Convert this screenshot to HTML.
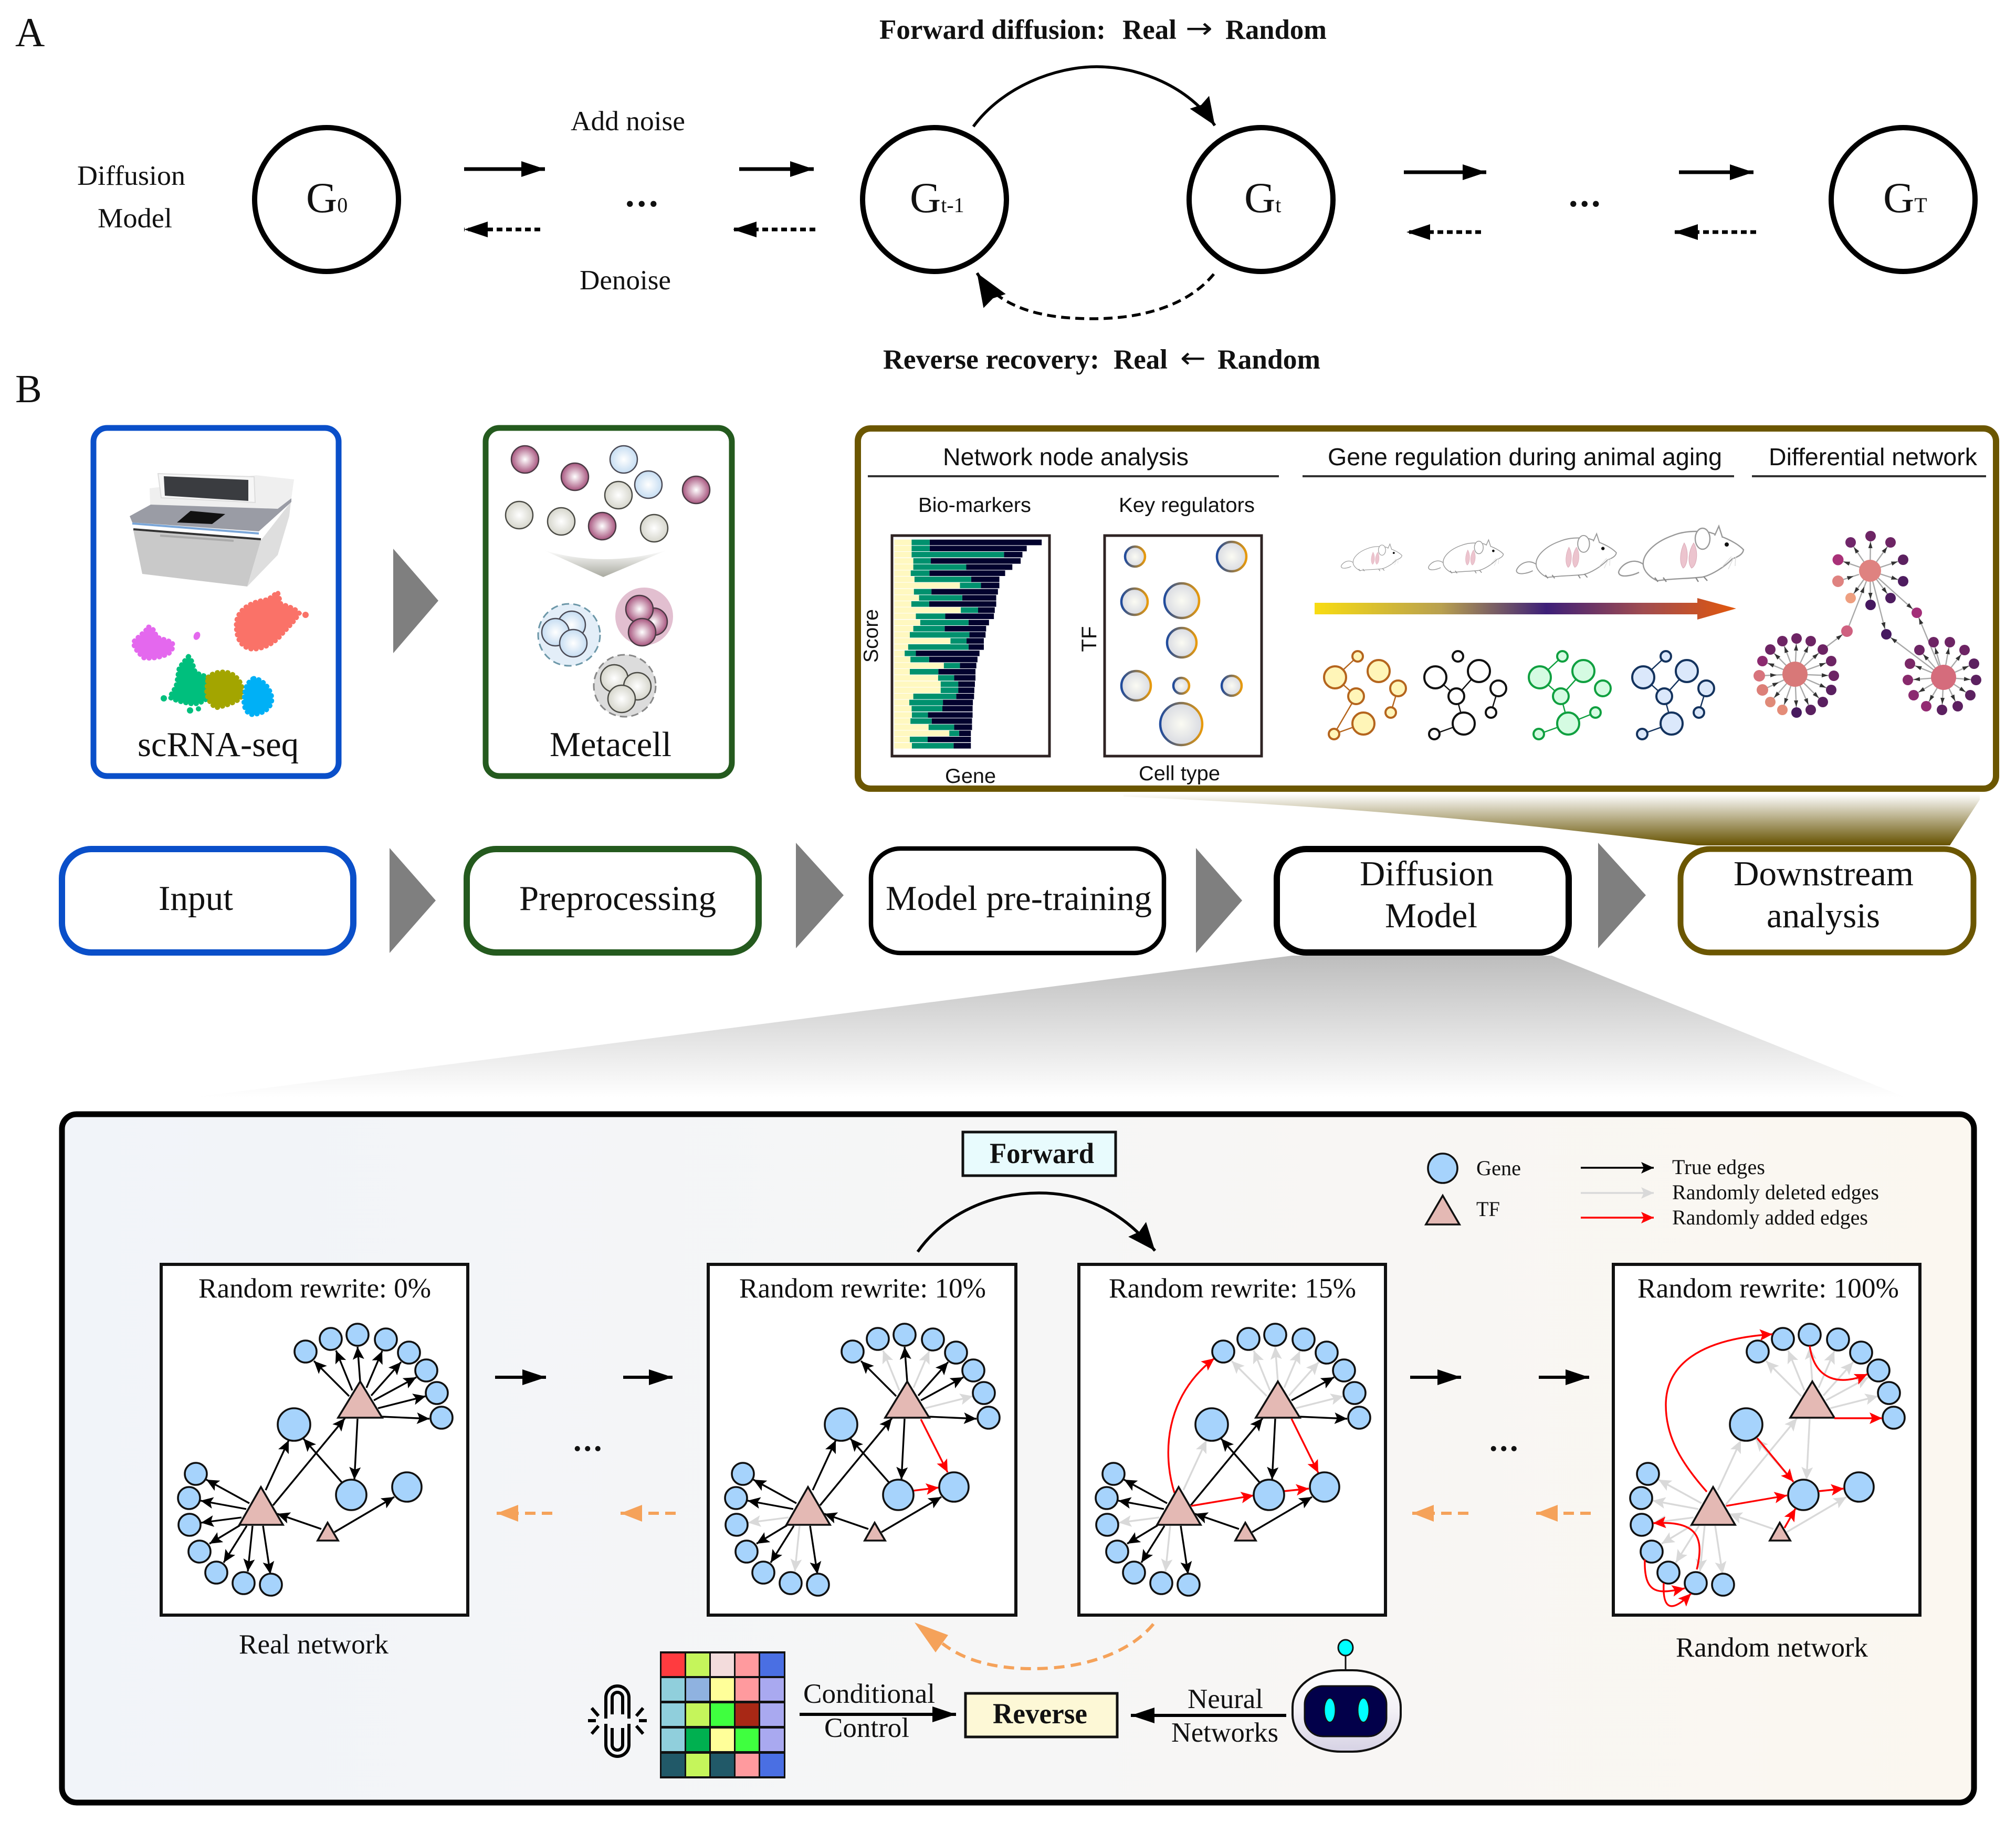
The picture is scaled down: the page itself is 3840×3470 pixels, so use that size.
<!DOCTYPE html>
<html><head><meta charset="utf-8"><title>Diffusion model diagram</title>
<style>
html,body{margin:0;padding:0;background:#fff}
svg{display:block}
text{font-family:"Liberation Serif",serif;fill:#111}
.s{font-family:"Liberation Sans",sans-serif}
</style></head><body>
<svg xmlns="http://www.w3.org/2000/svg" width="3840" height="3470" viewBox="0 0 3840 3470">
<defs>
<marker id="mk" markerUnits="userSpaceOnUse" markerWidth="26" markerHeight="24" refX="24" refY="12" orient="auto"><path d="M0 1L24 12L0 23L5 12Z" fill="#000"/></marker>
<marker id="mg" markerUnits="userSpaceOnUse" markerWidth="26" markerHeight="24" refX="24" refY="12" orient="auto"><path d="M0 1L24 12L0 23L5 12Z" fill="#d9d9d9"/></marker>
<marker id="mr" markerUnits="userSpaceOnUse" markerWidth="26" markerHeight="24" refX="24" refY="12" orient="auto"><path d="M0 1L24 12L0 23L5 12Z" fill="#f00"/></marker>
<marker id="mB" markerUnits="userSpaceOnUse" markerWidth="46" markerHeight="32" refX="45" refY="16" orient="auto"><path d="M0 1L45 16L0 31Z" fill="#000"/></marker>
<marker id="mL" markerUnits="userSpaceOnUse" markerWidth="54" markerHeight="46" refX="53" refY="23" orient="auto"><path d="M0 1L53 23L0 45L6 23Z" fill="#000"/></marker>
<marker id="mX" markerUnits="userSpaceOnUse" markerWidth="64" markerHeight="52" refX="63" refY="26" orient="auto"><path d="M0 1L63 26L0 51L6 26Z" fill="#000"/></marker>
<marker id="mO" markerUnits="userSpaceOnUse" markerWidth="42" markerHeight="34" refX="41" refY="17" orient="auto"><path d="M0 1L41 17L0 33Z" fill="#f5a25a"/></marker>
<marker id="ma" markerUnits="userSpaceOnUse" markerWidth="10" markerHeight="10" refX="0" refY="5" orient="auto" overflow="visible"><path d="M-23 1L-11 5L-23 9Z" fill="#333"/></marker>
<linearGradient id="fb" x1="0" y1="0" x2="0" y2="1"><stop offset="0" stop-color="#fff"/><stop offset="1" stop-color="#665200"/></linearGradient>
<linearGradient id="fg" x1="0" y1="0" x2="0" y2="1"><stop offset="0" stop-color="#bdbdbd"/><stop offset="1" stop-color="#fff"/></linearGradient>
<linearGradient id="bg" x1="0" y1="0" x2="1" y2="0"><stop offset="0" stop-color="#f1f4f9"/><stop offset=".5" stop-color="#f6f6f6"/><stop offset="1" stop-color="#fbf7f0"/></linearGradient>
<linearGradient id="ag" x1="0" y1="0" x2="1" y2="0"><stop offset="0" stop-color="#f8dc12"/><stop offset=".3" stop-color="#b8a050"/><stop offset=".55" stop-color="#3d1f78"/><stop offset=".78" stop-color="#a04c50"/><stop offset="1" stop-color="#e2570c"/></linearGradient>
<linearGradient id="bs" x1="0" y1="0" x2="1" y2="0"><stop offset="0" stop-color="#1f4b9e"/><stop offset="1" stop-color="#e89a0c"/></linearGradient>
<linearGradient id="fn" x1="0" y1="0" x2="0" y2="1"><stop offset="0" stop-color="#fff"/><stop offset="1" stop-color="#a9aaa0"/></linearGradient>
<linearGradient id="rb" x1="0" y1="0" x2="0" y2="1"><stop offset="0" stop-color="#fff"/><stop offset=".5" stop-color="#f2f0f6"/><stop offset="1" stop-color="#d6d2e4"/></linearGradient>
<radialGradient id="gm"><stop offset="0" stop-color="#fff"/><stop offset="1" stop-color="#a8567f"/></radialGradient>
<radialGradient id="gb"><stop offset="0" stop-color="#fff"/><stop offset="1" stop-color="#c6ddf2"/></radialGradient>
<radialGradient id="gy"><stop offset="0" stop-color="#fff"/><stop offset="1" stop-color="#d6d6cc"/></radialGradient>
<radialGradient id="bb"><stop offset="0" stop-color="#fbfbf3"/><stop offset="1" stop-color="#d9dbe2"/></radialGradient>

<line id="e1" x1="665" y1="2659" x2="598" y2="2592"/>
<line id="e2" x1="671" y1="2648" x2="640" y2="2572"/>
<line id="e3" x1="686" y1="2631" x2="681" y2="2565"/>
<line id="e4" x1="698" y1="2643" x2="728" y2="2573"/>
<line id="e5" x1="707" y1="2658" x2="764" y2="2594"/>
<line id="e6" x1="712" y1="2667" x2="793" y2="2623"/>
<line id="e7" x1="720" y1="2682" x2="811" y2="2659"/>
<line id="e8" x1="726" y1="2698" x2="818" y2="2702"/>
<line id="e9" x1="681" y1="2702" x2="675" y2="2818"/>
<line id="e10" x1="520" y1="2867" x2="657" y2="2701"/>
<line id="e11" x1="506" y1="2838" x2="550" y2="2743"/>
<line id="e12" x1="651" y1="2823" x2="578" y2="2740"/>
<line id="e13" x1="637" y1="2918" x2="751" y2="2851"/>
<line id="e14" x1="612" y1="2912" x2="528" y2="2883"/>
<line id="e15" x1="475" y1="2863" x2="393" y2="2818"/>
<line id="e16" x1="469" y1="2874" x2="382" y2="2858"/>
<line id="e17" x1="460" y1="2890" x2="383" y2="2900"/>
<line id="e18" x1="457" y1="2905" x2="399" y2="2940"/>
<line id="e19" x1="470" y1="2906" x2="426" y2="2976"/>
<line id="e20" x1="481" y1="2906" x2="472" y2="2993"/>
<line id="e21" x1="501" y1="2906" x2="515" y2="2998"/>

<g id="nd" fill="#a6d3fc" stroke="#111" stroke-width="3.6">
<circle cx="582" cy="2574" r="21"/><circle cx="630" cy="2550" r="21"/><circle cx="681" cy="2542" r="21"/><circle cx="735" cy="2551" r="21"/><circle cx="779" cy="2576" r="21"/><circle cx="812" cy="2610" r="21"/><circle cx="832" cy="2653" r="21"/><circle cx="841" cy="2700" r="21"/>
<circle cx="560" cy="2713" r="31"/><circle cx="669" cy="2847" r="29"/><circle cx="775" cy="2832" r="28"/>
<circle cx="373" cy="2807" r="21"/><circle cx="360" cy="2853" r="21"/><circle cx="361" cy="2904" r="21"/><circle cx="380" cy="2955" r="21"/><circle cx="412" cy="2995" r="21"/><circle cx="464" cy="3015" r="21"/><circle cx="516" cy="3018" r="21"/>
<path d="M686 2631L644 2700H728Z" fill="#e4b9b4"/><path d="M497 2832L456 2904H539Z" fill="#e4b9b4"/><path d="M624 2900L605 2934H644Z" fill="#e4b9b4"/>
</g>

<g id="cellM"><circle r="26" fill="url(#gm)" stroke="#4a3a44" stroke-width="2.5"/></g>
<g id="cellB"><circle r="26" fill="url(#gb)" stroke="#4a4a55" stroke-width="2.5"/></g>
<g id="cellY"><circle r="26" fill="url(#gy)" stroke="#4a4a44" stroke-width="2.5"/></g>

<g id="mouse">
<path d="M52 76C30 58 5 78 3 90C5 102 30 96 42 90" fill="none" stroke="#999" stroke-width="2.4"/>
<path d="M241 47C225 30 195 20 177 14C150 10 125 12 106 20C72 32 48 55 50 76C51 88 63 100 77 106C100 102 140 102 163 99C180 95 205 80 220 64C232 60 240 55 241 47Z" fill="#fff" stroke="#999" stroke-width="2.4"/>
<ellipse cx="163" cy="26" rx="14" ry="20" fill="#fff" stroke="#999" stroke-width="2.4"/>
<path d="M186 20L194 2L201 24" fill="#fff" stroke="#999" stroke-width="2.4"/>
<path d="M128 34C120 50 118 72 126 82C134 78 138 50 128 34ZM146 34C136 50 134 72 142 82C152 78 156 50 146 34Z" fill="#ecc4ce" stroke="#d9a8b6" stroke-width="1"/>
<circle cx="209" cy="37" r="4" fill="#111"/>
<path d="M218 60L200 80M222 62L212 84M226 60L225 78" stroke="#ddd" stroke-width="1.500"/>
<path d="M72 100L78 108M88 100L94 108M150 100L155 108M165 98L172 106" stroke="#888" stroke-width="2.4"/>
</g>
</defs>

<!-- Panel A -->
<text x="29" y="88" font-size="78">A</text>
<text x="29" y="766" font-size="76">B</text>
<g font-size="53" font-weight="700">
<text x="1675" y="74" textLength="431" lengthAdjust="spacingAndGlyphs">Forward diffusion:</text>
<text x="2138" y="74" textLength="103" lengthAdjust="spacingAndGlyphs">Real</text>
<text x="2334" y="74" textLength="193" lengthAdjust="spacingAndGlyphs">Random</text>
<text x="1682" y="702" textLength="412" lengthAdjust="spacingAndGlyphs">Reverse recovery:</text>
<text x="2121" y="702" textLength="103" lengthAdjust="spacingAndGlyphs">Real</text>
<text x="2319" y="702" textLength="196" lengthAdjust="spacingAndGlyphs">Random</text>
</g>
<text x="2258" y="72" font-size="54" style="font-family:'DejaVu Sans',sans-serif" textLength="52" lengthAdjust="spacingAndGlyphs">→</text>
<text x="2248" y="700" font-size="54" style="font-family:'DejaVu Sans',sans-serif" textLength="49" lengthAdjust="spacingAndGlyphs">←</text>
<text x="1087" y="248" font-size="53" textLength="218" lengthAdjust="spacingAndGlyphs">Add noise</text>
<text x="1104" y="551" font-size="53" textLength="174" lengthAdjust="spacingAndGlyphs">Denoise</text>
<text x="147" y="352" font-size="53" textLength="206" lengthAdjust="spacingAndGlyphs">Diffusion</text>
<text x="186" y="433" font-size="53" textLength="142" lengthAdjust="spacingAndGlyphs">Model</text>
<text x="1191" y="393" font-size="70" font-weight="700" letter-spacing="5">...</text>
<text x="2988" y="393" font-size="70" font-weight="700" letter-spacing="4">...</text>
<g fill="none" stroke="#000" stroke-width="10">
<circle cx="622" cy="380" r="137"/><circle cx="1780" cy="380" r="137"/><circle cx="2402" cy="380" r="137"/><circle cx="3625" cy="380" r="137"/>
</g>
<text x="583" y="404" font-size="82">G<tspan font-size="40">0</tspan></text>
<text x="1733" y="404" font-size="82">G<tspan font-size="40">t-1</tspan></text>
<text x="2370" y="404" font-size="82">G<tspan font-size="40">t</tspan></text>
<text x="3587" y="404" font-size="82">G<tspan font-size="40">T</tspan></text>
<g stroke="#000" stroke-width="7" marker-end="url(#mB)">
<line x1="884" y1="322" x2="1038" y2="322"/><line x1="1408" y1="322" x2="1550" y2="322"/>
<line x1="2674" y1="328" x2="2831" y2="328"/><line x1="3198" y1="328" x2="3340" y2="328"/>
</g>
<g stroke="#000" stroke-width="7" stroke-dasharray="11 7" marker-end="url(#mB)">
<line x1="1029" y1="437" x2="884" y2="437"/><line x1="1553" y1="437" x2="1396" y2="437"/>
<line x1="2821" y1="442" x2="2679" y2="442"/><line x1="3345" y1="442" x2="3189" y2="442"/>
</g>
<path d="M1854 241C1910 165 2010 127 2089 127C2170 127 2265 165 2314 239" fill="none" stroke="#000" stroke-width="5.5" marker-end="url(#mL)"/>
<path d="M2312 522C2260 585 2170 607 2082 607C1990 607 1905 590 1861 520" fill="none" stroke="#000" stroke-width="5.5" stroke-dasharray="17 10" marker-end="url(#mX)"/>

<!-- Panel B top boxes -->
<rect x="178" y="815" width="467" height="663" rx="26" fill="#fff" stroke="#0a4fc9" stroke-width="11"/>
<rect x="925" y="815" width="469" height="663" rx="26" fill="#fff" stroke="#245a1e" stroke-width="11"/>
<path d="M749 1045L835 1144L749 1244Z" fill="#7f7f7f"/>

<!-- machine -->
<path d="M254 1010L497 1029L471 1117L271 1093Z" fill="#c9c9c9"/>
<path d="M497 1029L554 956L551 983L529 1057L471 1117Z" fill="#dedede"/>
<path d="M285 930L488 905L560 913L555 949L529 976L286 961Z" fill="#efefef"/>
<path d="M301 902L484 908L486 957L307 948Z" fill="#f6f6f6" stroke="#ddd" stroke-width="2"/>
<path d="M312 907L473 914L473 954L314 944Z" fill="#3a3c40"/>
<path d="M247 983L287 961L529 969L555 949L555 956L493 1012L252 995Z" fill="#9a9ca5"/>
<path d="M337 995L363 973L429 979L404 998Z" fill="#111"/>
<path d="M252 997L493 1016" stroke="#7aa6d8" stroke-width="4"/>
<path d="M254 1008L497 1027" stroke="#333" stroke-width="4"/>
<path d="M305 1020L445 1030" stroke="#aaa" stroke-width="4"/>

<!-- UMAP -->
<g stroke-width="9" stroke-linecap="round" stroke-dasharray="1 9">
<path d="M450 1190C450 1160 480 1145 510 1142L529 1128L535 1150C550 1155 565 1160 570 1168C560 1185 548 1195 535 1210C520 1228 495 1238 478 1236C458 1232 450 1215 450 1190Z" fill="#fa7268" stroke="#fa7268"/>
<path d="M283 1194C292 1195 296 1205 298 1213L328 1223C332 1235 325 1243 319 1246C305 1252 290 1255 274 1253C265 1245 255 1235 254 1223C260 1215 275 1205 283 1194Z" fill="#e468ee" stroke="#e468ee"/>
<path d="M359 1250C366 1255 368 1270 372 1280C380 1285 392 1288 402 1290L398 1328C390 1335 380 1340 368 1341C350 1338 335 1335 323 1328C330 1315 335 1310 337 1300C338 1290 340 1280 341 1273C346 1265 352 1258 359 1250Z" fill="#00bf7d" stroke="#00bf7d"/>
<path d="M396 1290C410 1276 440 1276 452 1292C462 1302 464 1318 458 1330C445 1340 425 1345 412 1348C398 1340 392 1325 394 1310Z" fill="#a3a500" stroke="#a3a500"/>
<path d="M483 1292C498 1292 516 1310 518 1330C518 1350 500 1360 480 1361C466 1358 462 1340 466 1325C466 1310 472 1298 483 1292Z" fill="#00b0f6" stroke="#00b0f6"/>
</g>
<circle cx="582" cy="1171" r="6" fill="#fa7268"/><circle cx="556" cy="1182" r="6" fill="#fa7268"/>
<ellipse cx="375" cy="1211" rx="6" ry="8" fill="#e468ee" transform="rotate(25 375 1211)"/>
<circle cx="312" cy="1330" r="6" fill="#00bf7d"/><circle cx="362" cy="1353" r="6" fill="#00bf7d"/><circle cx="378" cy="1350" r="5" fill="#00bf7d"/>
<text x="262" y="1440" font-size="67" textLength="307" lengthAdjust="spacingAndGlyphs">scRNA-seq</text>
<text x="1047" y="1440" font-size="67" textLength="232" lengthAdjust="spacingAndGlyphs">Metacell</text>

<!-- metacell cells -->
<use href="#cellM" x="1000" y="875"/><use href="#cellM" x="1095" y="908"/><use href="#cellM" x="1326" y="933"/><use href="#cellM" x="1147" y="1002"/>
<use href="#cellB" x="1188" y="875"/><use href="#cellB" x="1235" y="923"/>
<use href="#cellY" x="1178" y="943"/><use href="#cellY" x="989" y="981"/><use href="#cellY" x="1069" y="993"/><use href="#cellY" x="1246" y="1006"/>
<path d="M1036 1048Q1150 1082 1270 1048L1149 1099Z" fill="url(#fn)"/>
<circle cx="1084" cy="1209" r="59" fill="#e3eef8" stroke="#6c97a8" stroke-width="3" stroke-dasharray="14 8"/>
<use href="#cellB" x="1089" y="1190"/><use href="#cellB" x="1058" y="1204"/><use href="#cellB" x="1092" y="1225"/>
<circle cx="1227" cy="1174" r="55" fill="#e2bfd0"/>
<use href="#cellM" x="1245" y="1184"/><use href="#cellM" x="1218" y="1160"/><use href="#cellM" x="1223" y="1204"/>
<circle cx="1190" cy="1306" r="59" fill="#dcdcdc" stroke="#888" stroke-width="3" stroke-dasharray="14 8"/>
<use href="#cellY" x="1170" y="1292"/><use href="#cellY" x="1214" y="1307"/><use href="#cellY" x="1184" y="1331"/>

<!-- Downstream panel -->
<rect x="1634" y="816" width="2168" height="686" rx="24" fill="#fff" stroke="#6b5600" stroke-width="12"/>
<text class="s" x="1796" y="886" font-size="46" textLength="468" lengthAdjust="spacingAndGlyphs">Network node analysis</text>
<text class="s" x="2529" y="886" font-size="46" textLength="751" lengthAdjust="spacingAndGlyphs">Gene regulation during animal aging</text>
<text class="s" x="3369" y="886" font-size="46" textLength="397" lengthAdjust="spacingAndGlyphs">Differential network</text>
<g stroke="#333" stroke-width="4"><path d="M1653 907H2436M2481 907H3303M3337 907H3783"/></g>
<text class="s" x="1749" y="975" font-size="39" textLength="215" lengthAdjust="spacingAndGlyphs">Bio-markers</text>
<text class="s" x="2131" y="975" font-size="39" textLength="259" lengthAdjust="spacingAndGlyphs">Key regulators</text>
<text class="s" x="1800" y="1491" font-size="39" textLength="97" lengthAdjust="spacingAndGlyphs">Gene</text>
<text class="s" x="2169" y="1486" font-size="39" textLength="155" lengthAdjust="spacingAndGlyphs">Cell type</text>
<text class="s" font-size="39" text-anchor="middle" transform="translate(1672 1211) rotate(-90)">Score</text>
<text class="s" font-size="40" text-anchor="middle" transform="translate(2088 1217) rotate(-90)">TF</text>
<rect x="1699" y="1020" width="300" height="420" fill="#fff" stroke="#2e2323" stroke-width="5"/>
<rect x="2104" y="1020" width="299" height="420" fill="#fff" stroke="#2e2323" stroke-width="5"/>
<g transform="translate(1620 980) scale(.5485 .33333)" fill="none" stroke-width="32">
<path stroke="#02022e" d="M275 159H664M275 194H612M533 229H597M279 265H591M402 300H562M274 335H537M419 370H517M453 405H517M281 441H512M388 476H506M273 511H506M443 546H501M329 581H498M410 617H481M327 652H471M413 687H469M403 722H463M410 757H463M227 793H448M273 828H441M380 863H437M305 898H434M360 933H434M374 969H432M374 1004H430M367 1039H429M321 1074H425M319 1109H424M269 1145H424M282 1180H422M360 1215H422M377 1250H418M268 1285H418M358 1321H418"/>
<path stroke="#00916e" d="M212 159H275M212 194H275M212 229H533M218 265H279M218 300H402M209 335H274M222 370H419M380 405H453M220 441H281M238 476H388M211 511H273M383 546H443M227 581H329M242 617H410M218 652H327M206 687H413M347 722H403M200 757H410M188 793H227M208 828H273M324 863H380M206 898H305M304 933H360M313 969H374M313 1004H374M218 1039H367M204 1074H321M212 1109H319M213 1145H269M208 1180H282M271 1215H360M343 1250H377M206 1285H268M213 1321H358"/>
<path stroke="#fff8c0" d="M152 159H212M152 194H212M152 229H212M152 265H218M152 300H218M152 335H209M152 370H222M152 405H380M152 441H220M152 476H238M152 511H211M152 546H383M152 581H227M152 617H242M152 652H218M152 687H206M152 722H347M152 757H200M152 793H188M152 828H208M152 863H324M152 898H206M152 933H304M152 969H313M152 1004H313M152 1039H218M152 1074H204M152 1109H212M152 1145H213M152 1180H208M152 1215H271M152 1250H343M152 1285H206M152 1321H213"/>
</g>
<g fill="url(#bb)" stroke="url(#bs)" stroke-width="4.5">
<circle cx="2162" cy="1060" r="19"/><circle cx="2346" cy="1060" r="28"/><circle cx="2161" cy="1146" r="25"/><circle cx="2251" cy="1144" r="33"/><circle cx="2251" cy="1224" r="28"/><circle cx="2164" cy="1306" r="28"/><circle cx="2250" cy="1306" r="15"/><circle cx="2346" cy="1306" r="19"/><circle cx="2250" cy="1379" r="40"/>
</g>
<path d="M2504 1148H3233V1139L3307 1159L3233 1180V1170H2504Z" fill="url(#ag)"/>
<use href="#mouse" transform="translate(2553 1035) scale(.487)"/>
<use href="#mouse" transform="translate(2719 1027) scale(.6)"/>
<use href="#mouse" transform="translate(2886 1015) scale(.8)"/>
<use href="#mouse" transform="translate(3080 1000)"/>

<!-- small networks -->
<g fill="#fff5b8" stroke="#b5651d" stroke-width="4">
<path d="M2586 1250L2543 1290L2583 1326L2541 1398L2597 1378M2663 1311L2649 1357" fill="none" stroke-width="2.5"/>
<circle cx="2586" cy="1250" r="10"/><circle cx="2543" cy="1290" r="21"/><circle cx="2626" cy="1278" r="21"/><circle cx="2663" cy="1311" r="15"/><circle cx="2583" cy="1326" r="15"/><circle cx="2649" cy="1357" r="10"/><circle cx="2597" cy="1378" r="21"/><circle cx="2541" cy="1398" r="10"/>
</g>
<g id="nx" fill="#fff" stroke="#111" stroke-width="4" transform="translate(191 0)">
<path d="M2543 1290L2583 1326M2626 1278L2583 1326L2597 1378L2541 1398M2663 1311L2649 1357" fill="none" stroke-width="2.5"/>
<circle cx="2586" cy="1250" r="10"/><circle cx="2543" cy="1290" r="21"/><circle cx="2626" cy="1278" r="21"/><circle cx="2663" cy="1311" r="15"/><circle cx="2583" cy="1326" r="15"/><circle cx="2649" cy="1357" r="10"/><circle cx="2597" cy="1378" r="21"/><circle cx="2541" cy="1398" r="10"/>
</g>
<g fill="#d5fbe2" stroke="#10a040" stroke-width="4" transform="translate(390 0)">
<path d="M2586 1250L2543 1290L2583 1326M2626 1278L2583 1326L2597 1378L2541 1398M2597 1378L2649 1357" fill="none" stroke-width="2.5"/>
<circle cx="2586" cy="1250" r="10"/><circle cx="2543" cy="1290" r="21"/><circle cx="2626" cy="1278" r="21"/><circle cx="2663" cy="1311" r="15"/><circle cx="2583" cy="1326" r="15"/><circle cx="2649" cy="1357" r="10"/><circle cx="2597" cy="1378" r="21"/><circle cx="2541" cy="1398" r="10"/>
</g>
<g fill="#dbe8fb" stroke="#14335e" stroke-width="4" transform="translate(587 0)">
<path d="M2586 1250L2543 1290L2583 1326M2626 1278L2583 1326L2597 1378L2541 1398M2663 1311L2649 1357" fill="none" stroke-width="2.5"/>
<circle cx="2586" cy="1250" r="10"/><circle cx="2543" cy="1290" r="21"/><circle cx="2626" cy="1278" r="21"/><circle cx="2663" cy="1311" r="15"/><circle cx="2583" cy="1326" r="15"/><circle cx="2649" cy="1357" r="10"/><circle cx="2597" cy="1378" r="21"/><circle cx="2541" cy="1398" r="10"/>
</g>

<!-- differential network -->
<g stroke="#a8a8a8" stroke-width="2.4" marker-end="url(#ma)">
<line x1="3562" y1="1087" x2="3563" y2="1021"/><line x1="3562" y1="1087" x2="3525" y2="1033"/><line x1="3562" y1="1087" x2="3601" y2="1033"/><line x1="3562" y1="1087" x2="3501" y2="1066"/><line x1="3562" y1="1087" x2="3625" y2="1066"/><line x1="3562" y1="1087" x2="3625" y2="1107"/><line x1="3562" y1="1087" x2="3525" y2="1139"/><line x1="3562" y1="1087" x2="3601" y2="1139"/><line x1="3562" y1="1087" x2="3563" y2="1152"/><line x1="3562" y1="1087" x2="3651" y2="1167"/><line x1="3562" y1="1087" x2="3593" y2="1208"/><line x1="3501" y1="1107" x2="3541" y2="1094"/><line x1="3518" y1="1202" x2="3555" y2="1107"/><line x1="3472" y1="1237" x2="3518" y2="1202"/><line x1="3702" y1="1290" x2="3593" y2="1208"/><line x1="3702" y1="1290" x2="3651" y2="1167"/>
<line x1="3419" y1="1284" x2="3422" y2="1216"/><line x1="3419" y1="1284" x2="3395" y2="1221"/><line x1="3419" y1="1284" x2="3449" y2="1221"/><line x1="3419" y1="1284" x2="3372" y2="1237"/><line x1="3419" y1="1284" x2="3472" y2="1237"/><line x1="3419" y1="1284" x2="3357" y2="1259"/><line x1="3419" y1="1284" x2="3488" y2="1259"/><line x1="3351" y1="1287" x2="3395" y2="1285"/><line x1="3419" y1="1284" x2="3493" y2="1287"/><line x1="3357" y1="1314" x2="3398" y2="1295"/><line x1="3419" y1="1284" x2="3488" y2="1314"/><line x1="3419" y1="1284" x2="3372" y2="1337"/><line x1="3419" y1="1284" x2="3472" y2="1337"/><line x1="3419" y1="1284" x2="3395" y2="1352"/><line x1="3419" y1="1284" x2="3449" y2="1352"/><line x1="3419" y1="1284" x2="3422" y2="1357"/>
<line x1="3702" y1="1290" x2="3683" y2="1223"/><line x1="3702" y1="1290" x2="3714" y2="1223"/><line x1="3702" y1="1290" x2="3656" y2="1238"/><line x1="3702" y1="1290" x2="3742" y2="1238"/><line x1="3702" y1="1290" x2="3638" y2="1264"/><line x1="3702" y1="1290" x2="3760" y2="1264"/><line x1="3702" y1="1290" x2="3634" y2="1295"/><line x1="3702" y1="1290" x2="3764" y2="1295"/><line x1="3702" y1="1290" x2="3645" y2="1324"/><line x1="3702" y1="1290" x2="3753" y2="1324"/><line x1="3702" y1="1290" x2="3669" y2="1345"/><line x1="3702" y1="1290" x2="3699" y2="1352"/><line x1="3702" y1="1290" x2="3729" y2="1345"/>
</g>
<g fill="#6d2464">
<circle cx="3563" cy="1021" r="10"/><circle cx="3525" cy="1033" r="10" fill="#70266a"/><circle cx="3601" cy="1033" r="10"/><circle cx="3501" cy="1066" r="10.500" fill="#a93178"/><circle cx="3625" cy="1066" r="10" fill="#5c2160"/><circle cx="3501" cy="1107" r="11" fill="#df8280"/><circle cx="3625" cy="1107" r="10" fill="#4e1c5f"/><circle cx="3525" cy="1139" r="10" fill="#ee9f80"/><circle cx="3601" cy="1139" r="10" fill="#4e1c5f"/><circle cx="3563" cy="1152" r="10" fill="#461860"/><circle cx="3651" cy="1167" r="10" fill="#a32e78"/><circle cx="3518" cy="1202" r="11" fill="#cf6180"/><circle cx="3593" cy="1208" r="10" fill="#461860"/>
<circle cx="3422" cy="1216" r="10"/><circle cx="3395" cy="1221" r="10"/><circle cx="3449" cy="1221" r="10"/><circle cx="3372" cy="1237" r="10"/><circle cx="3472" cy="1237" r="10"/><circle cx="3357" cy="1259" r="10" fill="#8c2a6f"/><circle cx="3488" cy="1259" r="10"/><circle cx="3351" cy="1287" r="11" fill="#d7737c"/><circle cx="3493" cy="1287" r="10"/><circle cx="3357" cy="1314" r="11" fill="#dc7f78"/><circle cx="3488" cy="1314" r="10" fill="#5a2060"/><circle cx="3372" cy="1337" r="10" fill="#e08a78"/><circle cx="3472" cy="1337" r="10" fill="#5a2060"/><circle cx="3395" cy="1352" r="10" fill="#e48c78"/><circle cx="3449" cy="1352" r="10" fill="#5a2060"/><circle cx="3422" cy="1357" r="10" fill="#471a5e"/>
<circle cx="3683" cy="1223" r="10"/><circle cx="3714" cy="1223" r="10"/><circle cx="3656" cy="1238" r="10"/><circle cx="3742" cy="1238" r="10"/><circle cx="3638" cy="1264" r="10" fill="#7a2867"/><circle cx="3760" cy="1264" r="10" fill="#5c2160"/><circle cx="3634" cy="1295" r="10" fill="#882a6c"/><circle cx="3764" cy="1295" r="10" fill="#5c2160"/><circle cx="3645" cy="1324" r="10" fill="#8b2b70"/><circle cx="3753" cy="1324" r="10" fill="#5c2160"/><circle cx="3669" cy="1345" r="10" fill="#932b72"/><circle cx="3699" cy="1352" r="10" fill="#5c2060"/><circle cx="3729" cy="1345" r="10" fill="#5c2060"/>
<circle cx="3562" cy="1087" r="21" fill="#df8280"/><circle cx="3419" cy="1284" r="24" fill="#d87878"/><circle cx="3702" cy="1290" r="24" fill="#d56c7c"/>
</g>

<!-- funnels -->
<path d="M2140 1517C2560 1535 2920 1570 3233 1610H3714L3771 1523V1512H2140Z" fill="url(#fb)"/>
<path d="M2461 1820L367 2090H3630L2956 1820Z" fill="url(#fg)"/>

<!-- pipeline -->
<rect x="118" y="1617" width="555" height="197" rx="56" fill="#fff" stroke="#0a4fc9" stroke-width="12"/>
<rect x="889" y="1617" width="556" height="197" rx="56" fill="#fff" stroke="#245a1e" stroke-width="12"/>
<rect x="1659" y="1616" width="558" height="199" rx="56" fill="#fff" stroke="#000" stroke-width="8.500"/>
<rect x="2432" y="1617" width="556" height="197" rx="56" fill="#fff" stroke="#000" stroke-width="12"/>
<rect x="3201" y="1617" width="558" height="197" rx="56" fill="#fff" stroke="#6b5600" stroke-width="11"/>
<g fill="#7f7f7f"><path d="M742 1615L830 1715L742 1815Z"/><path d="M1516 1605L1607 1705L1516 1806Z"/><path d="M2278 1615L2366 1715L2278 1815Z"/><path d="M3044 1605L3135 1705L3044 1806Z"/></g>
<text x="302" y="1733" font-size="67" textLength="142" lengthAdjust="spacingAndGlyphs">Input</text>
<text x="989" y="1733" font-size="67" textLength="375" lengthAdjust="spacingAndGlyphs">Preprocessing</text>
<text x="1687" y="1733" font-size="67" textLength="507" lengthAdjust="spacingAndGlyphs">Model pre-training</text>
<text x="2590" y="1686" font-size="67" textLength="255" lengthAdjust="spacingAndGlyphs">Diffusion</text>
<text x="2638" y="1766" font-size="67" textLength="176" lengthAdjust="spacingAndGlyphs">Model</text>
<text x="3302" y="1686" font-size="67" textLength="343" lengthAdjust="spacingAndGlyphs">Downstream</text>
<text x="3365" y="1766" font-size="67" textLength="216" lengthAdjust="spacingAndGlyphs">analysis</text>

<!-- Big box -->
<rect x="118" y="2122" width="3642" height="1311" rx="28" fill="url(#bg)" stroke="#000" stroke-width="11"/>
<rect x="1834" y="2156" width="291" height="83" fill="#e8fbfd" stroke="#111" stroke-width="5"/>
<text x="1885" y="2215" font-size="55" font-weight="700" textLength="199" lengthAdjust="spacingAndGlyphs">Forward</text>
<path d="M1748 2384C1800 2310 1890 2272 1979 2272C2070 2272 2140 2310 2200 2382" fill="none" stroke="#000" stroke-width="5.500" marker-end="url(#mL)"/>

<!-- legend -->
<circle cx="2748" cy="2225" r="28" fill="#a6d3fc" stroke="#111" stroke-width="3.600"/>
<path d="M2748 2277L2716 2332H2780Z" fill="#e4b9b4" stroke="#111" stroke-width="3.600"/>
<text x="2812" y="2238" font-size="40" textLength="85" lengthAdjust="spacingAndGlyphs">Gene</text>
<text x="2812" y="2316" font-size="40" textLength="45" lengthAdjust="spacingAndGlyphs">TF</text>
<line x1="3011" y1="2224" x2="3150" y2="2224" stroke="#000" stroke-width="3.600" marker-end="url(#mk)"/>
<line x1="3011" y1="2272" x2="3150" y2="2272" stroke="#d9d9d9" stroke-width="3.600" marker-end="url(#mg)"/>
<line x1="3011" y1="2319" x2="3150" y2="2319" stroke="#f00" stroke-width="3.600" marker-end="url(#mr)"/>
<text x="3185" y="2236" font-size="40" textLength="177" lengthAdjust="spacing">True edges</text>
<text x="3185" y="2284" font-size="40" textLength="394" lengthAdjust="spacing">Randomly deleted edges</text>
<text x="3185" y="2332" font-size="40" textLength="373" lengthAdjust="spacing">Randomly added edges</text>

<!-- rewrite panels -->
<g fill="#fff" stroke="#111" stroke-width="6">
<rect x="307" y="2408" width="584" height="668"/><rect x="1349" y="2408" width="586" height="668"/><rect x="2055" y="2408" width="584" height="668"/><rect x="3073" y="2408" width="584" height="668"/>
</g>
<text x="378" y="2471" font-size="53" textLength="443" lengthAdjust="spacingAndGlyphs">Random rewrite: 0%</text>
<text x="1408" y="2471" font-size="53" textLength="470" lengthAdjust="spacingAndGlyphs">Random rewrite: 10%</text>
<text x="2112" y="2471" font-size="53" textLength="471" lengthAdjust="spacingAndGlyphs">Random rewrite: 15%</text>
<text x="3119" y="2471" font-size="53" textLength="498" lengthAdjust="spacingAndGlyphs">Random rewrite: 100%</text>
<text x="455" y="3149" font-size="53" textLength="285" lengthAdjust="spacingAndGlyphs">Real network</text>
<text x="3192" y="3155" font-size="53" textLength="366" lengthAdjust="spacingAndGlyphs">Random network</text>

<!-- panel 1 -->
<g>
<g stroke="#000" stroke-width="3.400" marker-end="url(#mk)">
<use href="#e1"/><use href="#e2"/><use href="#e3"/><use href="#e4"/><use href="#e5"/><use href="#e6"/><use href="#e7"/><use href="#e8"/><use href="#e9"/><use href="#e10"/><use href="#e11"/><use href="#e12"/><use href="#e13"/><use href="#e14"/><use href="#e15"/><use href="#e16"/><use href="#e17"/><use href="#e18"/><use href="#e19"/><use href="#e20"/><use href="#e21"/>
</g>
<use href="#nd"/>
</g>
<!-- panel 2 -->
<g transform="translate(1042 0)">
<g stroke="#d9d9d9" stroke-width="3.400" marker-end="url(#mg)"><use href="#e2"/><use href="#e4"/><use href="#e7"/><use href="#e17"/><use href="#e20"/></g>
<g stroke="#000" stroke-width="3.400" marker-end="url(#mk)">
<use href="#e1"/><use href="#e3"/><use href="#e5"/><use href="#e6"/><use href="#e8"/><use href="#e9"/><use href="#e10"/><use href="#e11"/><use href="#e12"/><use href="#e13"/><use href="#e14"/><use href="#e15"/><use href="#e16"/><use href="#e18"/><use href="#e19"/><use href="#e21"/>
</g>
<g stroke="#f00" stroke-width="3.400" marker-end="url(#mr)"><line x1="712" y1="2703" x2="763" y2="2804"/><line x1="697" y1="2839" x2="746" y2="2833"/></g>
<use href="#nd"/>
</g>
<!-- panel 3 -->
<g transform="translate(1748 0)">
<g stroke="#d9d9d9" stroke-width="3.400" marker-end="url(#mg)"><use href="#e1"/><use href="#e2"/><use href="#e3"/><use href="#e4"/><use href="#e5"/><use href="#e7"/><use href="#e11"/><use href="#e17"/><use href="#e20"/></g>
<g stroke="#000" stroke-width="3.400" marker-end="url(#mk)">
<use href="#e6"/><use href="#e8"/><use href="#e9"/><use href="#e10"/><use href="#e12"/><use href="#e13"/><use href="#e14"/><use href="#e15"/><use href="#e16"/><use href="#e18"/><use href="#e19"/><use href="#e21"/>
</g>
<g stroke="#f00" stroke-width="3.400" fill="none" marker-end="url(#mr)"><line x1="712" y1="2702" x2="763" y2="2805"/><line x1="697" y1="2840" x2="745" y2="2835"/><line x1="521" y1="2868" x2="640" y2="2848"/><path d="M489 2843C466 2770 470 2660 565 2587"/></g>
<use href="#nd"/>
</g>
<!-- panel 4 -->
<g transform="translate(2766 0)">
<g stroke="#d9d9d9" stroke-width="3.400" marker-end="url(#mg)">
<use href="#e1"/><use href="#e2"/><use href="#e3"/><use href="#e4"/><use href="#e5"/><use href="#e6"/><use href="#e7"/><use href="#e9"/><use href="#e10"/><use href="#e11"/><use href="#e12"/><use href="#e13"/><use href="#e14"/><use href="#e15"/><use href="#e16"/><use href="#e17"/><use href="#e18"/><use href="#e19"/><use href="#e20"/><use href="#e21"/>
</g>
<use href="#nd"/>
<g stroke="#f00" stroke-width="3.400" fill="none" marker-end="url(#mr)">
<line x1="728" y1="2701" x2="819" y2="2701"/><line x1="581" y1="2739" x2="650" y2="2822"/><line x1="522" y1="2868" x2="638" y2="2848"/><line x1="698" y1="2840" x2="746" y2="2835"/><line x1="633" y1="2910" x2="654" y2="2873"/>
<path d="M485 2841C440 2790 407 2740 407 2676C407 2600 470 2550 610 2541"/>
<path d="M681 2563C690 2630 740 2640 791 2617"/>
<path d="M466 2989C480 2930 470 2895 383 2901"/>
<path d="M367 2970C365 3040 395 3035 443 3025"/>
<path d="M403 3015C400 3075 425 3065 455 3035"/>
</g>
</g>

<!-- between-panel arrows -->
<g stroke="#000" stroke-width="6" marker-end="url(#mB)">
<line x1="943" y1="2623" x2="1040" y2="2623"/><line x1="1187" y1="2623" x2="1281" y2="2623"/><line x1="2686" y1="2623" x2="2783" y2="2623"/><line x1="2931" y1="2623" x2="3027" y2="2623"/>
</g>
<g stroke="#f5a25a" stroke-width="6" stroke-dasharray="20 12" marker-end="url(#mO)">
<line x1="1052" y1="2882" x2="946" y2="2882"/><line x1="1287" y1="2882" x2="1182" y2="2882"/><line x1="2797" y1="2882" x2="2690" y2="2882"/><line x1="3030" y1="2882" x2="2926" y2="2882"/>
</g>
<text x="1092" y="2763" font-size="62" font-weight="700" letter-spacing="4">...</text>
<text x="2837" y="2763" font-size="62" font-weight="700" letter-spacing="4">...</text>

<!-- orange curve -->
<path d="M2197 3093C2150 3150 2060 3178 1967 3178C1900 3178 1840 3165 1795 3130" fill="none" stroke="#f5a25a" stroke-width="6" stroke-dasharray="20 12"/>
<path d="M1742 3090L1806 3114L1782 3147Z" fill="#f5a25a"/>

<!-- clip icon -->
<g fill="none" stroke="#000" stroke-width="6">
<path d="M1154 3273V3233a22 22 0 0 1 44 0V3273M1166 3265V3233a10 10 0 0 1 20 0V3265"/>
<path d="M1154 3283V3323a22 22 0 0 0 44 0V3283M1166 3291V3323a10 10 0 0 0 20 0V3291"/>
<path d="M1120 3277H1135M1217 3277H1232M1127 3253L1140 3268M1127 3302L1140 3287M1225 3253L1212 3268M1225 3302L1212 3287"/>
</g>
<!-- matrix -->
<rect x="1257" y="3145" width="239" height="242" fill="#111"/>
<g>
<rect x="1260" y="3149" width="44" height="43" fill="#ff3b3f"/><rect x="1307" y="3149" width="44" height="43" fill="#c5f55b"/><rect x="1354" y="3149" width="44" height="43" fill="#f3dcdc"/><rect x="1401" y="3149" width="44" height="43" fill="#ff9a9e"/><rect x="1448" y="3149" width="45" height="43" fill="#4a6fe3"/>
<rect x="1260" y="3196" width="44" height="43" fill="#90cfdc"/><rect x="1307" y="3196" width="44" height="43" fill="#8fb2e0"/><rect x="1354" y="3196" width="44" height="43" fill="#ffff99"/><rect x="1401" y="3196" width="44" height="43" fill="#ff9a9e"/><rect x="1448" y="3196" width="45" height="43" fill="#a9a9f0"/>
<rect x="1260" y="3244" width="44" height="43" fill="#90cfdc"/><rect x="1307" y="3244" width="44" height="43" fill="#c5f55b"/><rect x="1354" y="3244" width="44" height="43" fill="#3fff3f"/><rect x="1401" y="3244" width="44" height="43" fill="#a82815"/><rect x="1448" y="3244" width="45" height="43" fill="#a9a9f0"/>
<rect x="1260" y="3292" width="44" height="43" fill="#90cfdc"/><rect x="1307" y="3292" width="44" height="43" fill="#00b050"/><rect x="1354" y="3292" width="44" height="43" fill="#ffff99"/><rect x="1401" y="3292" width="44" height="43" fill="#3fff3f"/><rect x="1448" y="3292" width="45" height="43" fill="#a9a9f0"/>
<rect x="1260" y="3340" width="44" height="43" fill="#215968"/><rect x="1307" y="3340" width="44" height="43" fill="#c5f55b"/><rect x="1354" y="3340" width="44" height="43" fill="#215968"/><rect x="1401" y="3340" width="44" height="43" fill="#ff9a9e"/><rect x="1448" y="3340" width="45" height="43" fill="#4a6fe3"/>
</g>
<text x="1530" y="3243" font-size="53" textLength="251" lengthAdjust="spacingAndGlyphs">Conditional</text>
<text x="1570" y="3308" font-size="53" textLength="162" lengthAdjust="spacingAndGlyphs">Control</text>
<line x1="1523" y1="3265" x2="1821" y2="3265" stroke="#000" stroke-width="6" marker-end="url(#mB)"/>
<rect x="1839" y="3225" width="289" height="83" fill="#fdf8d6" stroke="#111" stroke-width="5"/>
<text x="1891" y="3282" font-size="55" font-weight="700" textLength="180" lengthAdjust="spacingAndGlyphs">Reverse</text>
<line x1="2450" y1="3267" x2="2154" y2="3267" stroke="#000" stroke-width="6" marker-end="url(#mB)"/>
<text x="2262" y="3253" font-size="53" textLength="144" lengthAdjust="spacingAndGlyphs">Neural</text>
<text x="2231" y="3317" font-size="53" textLength="204" lengthAdjust="spacingAndGlyphs">Networks</text>
<!-- robot -->
<line x1="2563" y1="3182" x2="2563" y2="3150" stroke="#111" stroke-width="3"/>
<ellipse cx="2563" cy="3138" rx="14" ry="15" fill="#0ff" stroke="#111" stroke-width="3"/>
<rect x="2462" y="3181" width="206" height="155" rx="92" ry="70" fill="url(#rb)" stroke="#111" stroke-width="4"/>
<rect x="2485" y="3211" width="156" height="96" rx="35" fill="#02004a" stroke="#111" stroke-width="3"/>
<ellipse cx="2533" cy="3257" rx="10.500" ry="23" fill="#0ff" stroke="#111" stroke-width="2"/>
<ellipse cx="2597" cy="3257" rx="10.500" ry="23" fill="#0ff" stroke="#111" stroke-width="2"/>
</svg>
</body></html>
